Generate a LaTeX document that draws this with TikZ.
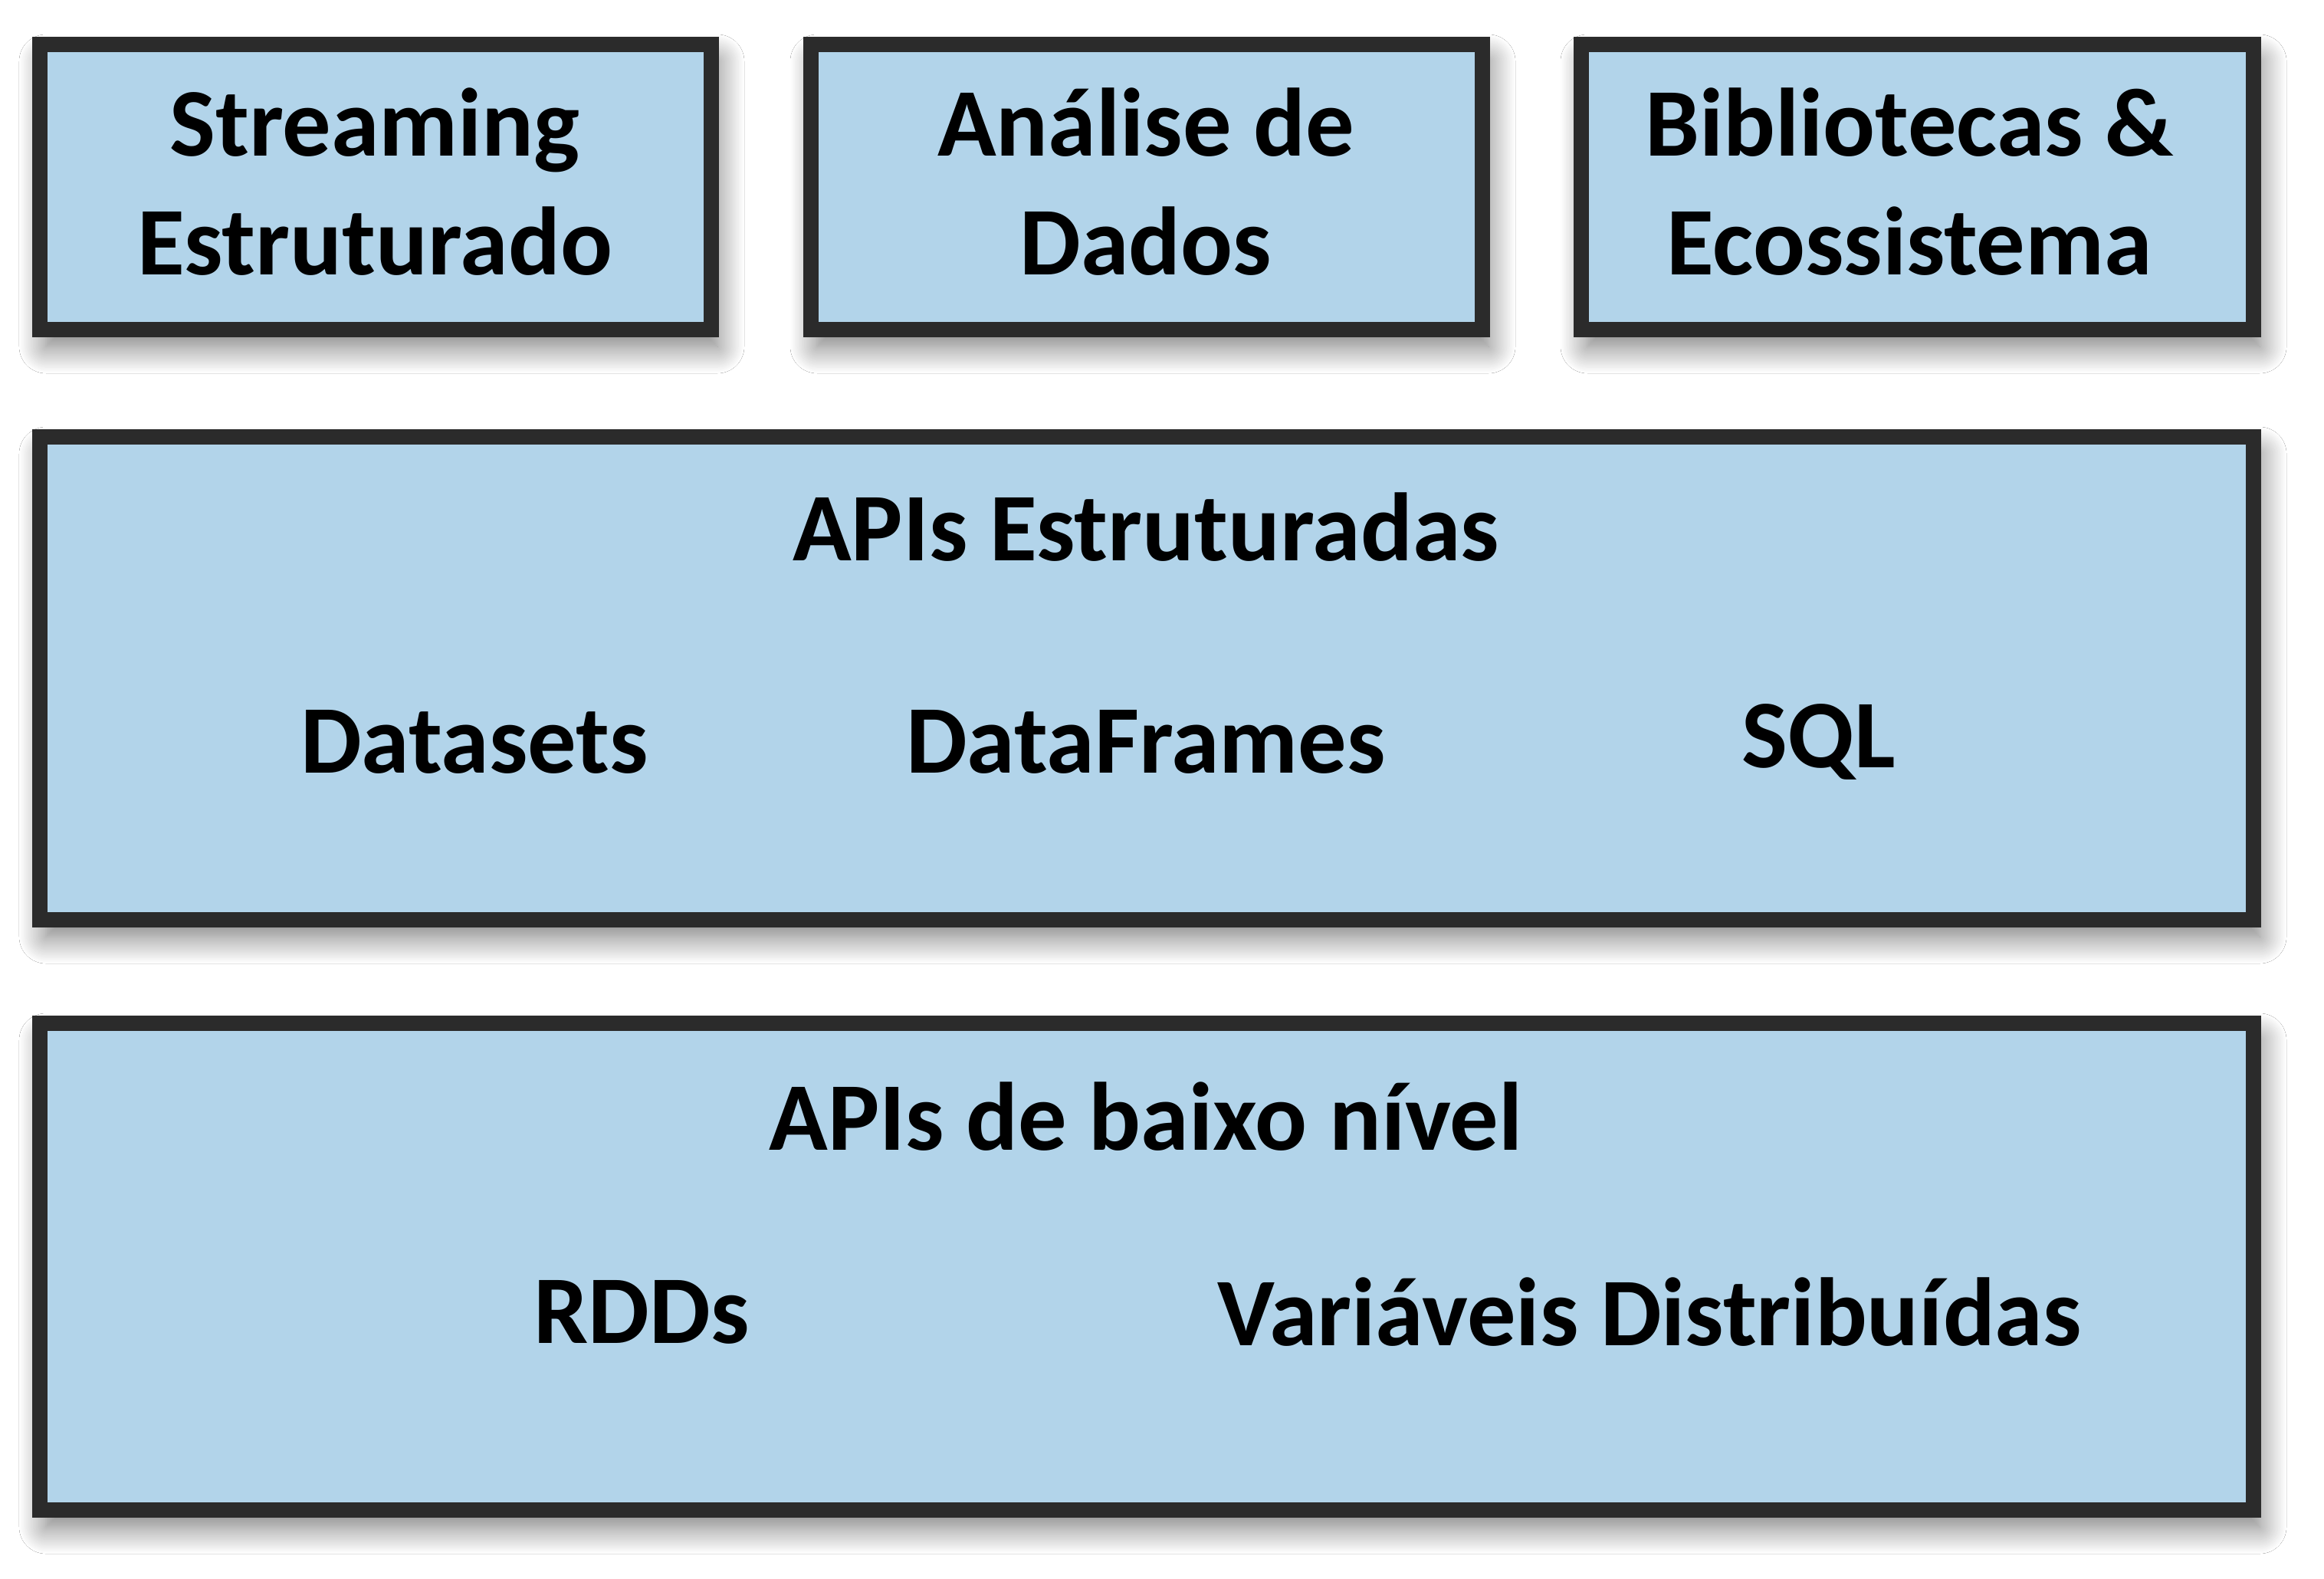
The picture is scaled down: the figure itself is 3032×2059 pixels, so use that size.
\documentclass[tikz,border=0pt]{standalone}
\usepackage{fontspec}
\setmainfont{Carlito}
\usetikzlibrary{shadows.blur}
\definecolor{boxfill}{HTML}{B2D4EA}
\definecolor{boxline}{HTML}{2B2B2B}
\begin{document}
\begin{tikzpicture}[x=0.1mm,y=-0.1mm,
  panel/.style={draw=boxline,line width=5.5pt,fill=boxfill,
    blur shadow={shadow xshift=0.8mm,shadow yshift=-2.2mm,shadow blur radius=3.5mm,shadow blur steps=20,shadow opacity=55}},
  lbl/.style={font=\fontsize{36}{44}\selectfont\bfseries,align=center,text=black,inner sep=0pt}]
\useasboundingbox[fill=white] (0,0) rectangle (3032,2059);
% boxes
\path[panel] (52,58) rectangle (928,430);
\path[panel] (1058,58) rectangle (1934,430);
\path[panel] (2063,58) rectangle (2940,430);
\path[panel] (52,570) rectangle (2940,1200);
\path[panel] (52,1335) rectangle (2940,1970);
% labels
\node[lbl] (ss) at (489,237) {Streaming\\Estruturado};
\node[lbl] (ad) at (1495,237) {Análise de\\Dados};
\node[lbl] (be) at (2491,237) {Bibliotecas \&\\Ecossistema};
\node[lbl] (ae) at (1495,688) {APIs Estruturadas};
\node[lbl] (ds) at (619,968) {Datasets};
\node[lbl] (df) at (1495,968) {DataFrames};
\node[lbl] (sql) at (2373,968) {SQL};
\node[lbl] (ab) at (1495,1457) {APIs de baixo nível};
\node[lbl] (rdd) at (837,1712) {RDDs};
\node[lbl] (vd) at (2152,1712) {Variáveis Distribuídas};
\end{tikzpicture}
\end{document}
